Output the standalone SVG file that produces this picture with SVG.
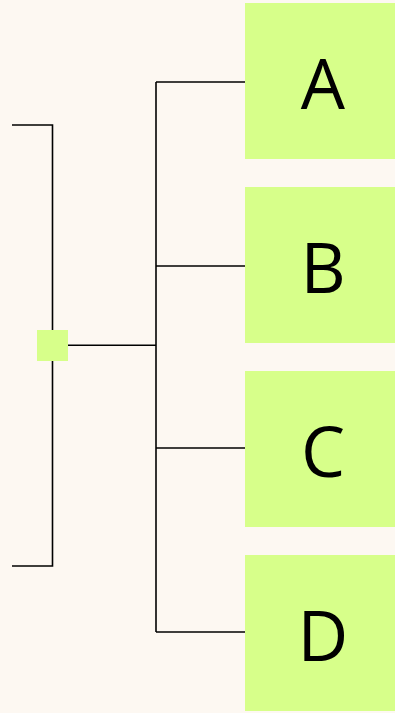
<svg xmlns="http://www.w3.org/2000/svg" width="395" height="713" viewBox="0 0 395 713">
<style>
.bg{fill:#fdf8f2}
.box{fill:#d7ff8a}
.lbl{font-family:"Open Sans","Noto Sans",sans-serif;font-size:70px;fill:#000;text-anchor:middle}
.ln{stroke:#000;stroke-width:1.6;fill:none}
</style>
<rect class="bg" x="0" y="0" width="395" height="713"/>
<g id="connectors">
<path class="ln" d="M12,125 H52.5 V566 H12"/>
<path class="ln" d="M68,345.3 H156" stroke-width="2.4"/>
<path class="ln" d="M156,82 V632"/>
<path class="ln" d="M156,82 H245"/>
<path class="ln" d="M156,266 H245"/>
<path class="ln" d="M156,448 H245"/>
<path class="ln" d="M156,632 H245"/>
</g>
<g id="root"><rect class="box" x="37" y="330" width="31" height="31"/></g>
<g id="nodeA"><rect class="box" x="245" y="3" width="156" height="156"/><text class="lbl" x="323" y="109">A</text></g>
<g id="nodeB"><rect class="box" x="245" y="187" width="156" height="156"/><text class="lbl" x="323" y="293">B</text></g>
<g id="nodeC"><rect class="box" x="245" y="371" width="156" height="156"/><text class="lbl" x="323" y="477">C</text></g>
<g id="nodeD"><rect class="box" x="245" y="555" width="156" height="156"/><text class="lbl" x="323" y="661">D</text></g>
</svg>
